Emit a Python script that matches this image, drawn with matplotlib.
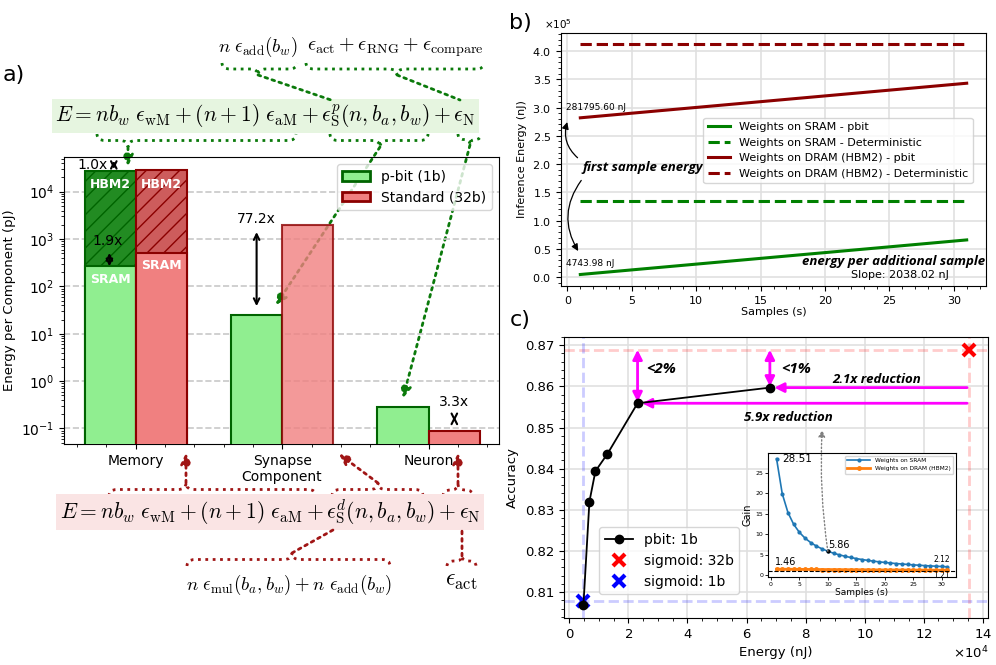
import numpy as np
import matplotlib.pyplot as plt
from matplotlib.path import Path
from matplotlib.patches import PathPatch, Patch
from matplotlib.ticker import AutoMinorLocator, MultipleLocator, ScalarFormatter

# ---- panel a data (pJ per component) ----
components = ['Memory', 'Synapse', 'Neuron']
mem_sram = [265, 510]        # p-bit, standard
mem_hbm2 = [27800, 28300]
synapse = [25.5, 1969]
neuron = [0.29, 0.088]
ratio_labels = ['1.0x', '1.9x', '77.2x', '3.3x']

# ---- panel b data (nJ) ----
samples = [1, 2, 3, 4, 5, 6, 7, 8, 9, 10, 11, 12, 13, 14, 15, 16,
           17, 18, 19, 20, 21, 22, 23, 24, 25, 26, 27, 28, 29, 30, 31]
sram_pbit = [4743.98, 6782.00, 8820.02, 10858.04, 12896.06, 14934.08, 16972.10,
             19010.12, 21048.14, 23086.16, 25124.18, 27162.20, 29200.22, 31238.24,
             33276.26, 35314.28, 37352.30, 39390.32, 41428.34, 43466.36, 45504.38,
             47542.40, 49580.42, 51618.44, 53656.46, 55694.48, 57732.50, 59770.52,
             61808.54, 63846.56, 65884.58]
dram_pbit = [281795.60, 283833.62, 285871.64, 287909.66, 289947.68, 291985.70,
             294023.72, 296061.74, 298099.76, 300137.78, 302175.80, 304213.82,
             306251.84, 308289.86, 310327.88, 312365.90, 314403.92, 316441.94,
             318479.96, 320517.98, 322556.00, 324594.02, 326632.04, 328670.06,
             330708.08, 332746.10, 334784.12, 336822.14, 338860.16, 340898.18,
             342936.20]
sram_det = [135250] * 31
dram_det = [411420] * 31

# ---- panel c data ----
pbit_energy = [4744, 6782, 8820, 12896, 23086, 67900]
pbit_acc = [0.8068, 0.8320, 0.8394, 0.8436, 0.8559, 0.8597]
sig32_energy, sig32_acc = 135250, 0.8689
sig1_energy, sig1_acc = 4700, 0.8079

gain_sram = [28.51, 19.94, 15.33, 12.46, 10.49, 9.06, 7.97, 7.11, 6.43, 5.86, 5.38,
             4.98, 4.63, 4.33, 4.06, 3.83, 3.62, 3.43, 3.26, 3.11, 2.97, 2.84, 2.73,
             2.62, 2.52, 2.43, 2.34, 2.26, 2.19, 2.12, 2.05]
gain_dram = [1.46, 1.45, 1.44, 1.43, 1.42, 1.41, 1.40, 1.39, 1.38, 1.37, 1.36, 1.35,
             1.34, 1.33, 1.33, 1.32, 1.31, 1.30, 1.29, 1.28, 1.28, 1.27, 1.26, 1.25,
             1.24, 1.24, 1.23, 1.22, 1.21, 1.21, 1.20]

W, H = 996, 665
fig = plt.figure(figsize=(9.96, 6.65), dpi=100)


def px_axes(l, t, r, b):
    return fig.add_axes([l / W, 1 - b / H, (r - l) / W, (b - t) / H])


def brace(ax, x0, x1, y0, xt, yt, color):
    ym = (y0 + yt) / 2
    q = min(8, abs(xt - x0) / 2, abs(x1 - xt) / 2)
    verts = [(x0, y0), (x0, ym), (x0 + q, ym), (xt - q, ym), (xt, ym), (xt, yt),
             (xt, ym), (xt + q, ym), (x1 - q, ym), (x1, ym), (x1, y0)]
    codes = [Path.MOVETO, Path.CURVE3, Path.CURVE3, Path.LINETO, Path.CURVE3, Path.CURVE3,
             Path.CURVE3, Path.CURVE3, Path.LINETO, Path.CURVE3, Path.CURVE3]
    ax.add_patch(PathPatch(Path(verts, codes), fc='none', ec=color, lw=2, ls=':'))


def link(ax, p0, p1, color, head=True):
    ax.annotate('', xy=p1, xytext=p0,
                arrowprops=dict(arrowstyle='-|>' if head else '-', color=color, lw=2,
                                ls=':', mutation_scale=16, shrinkA=0, shrinkB=0))


# overlay in pixel coordinates for the equations and their connectors
ov = fig.add_axes([0, 0, 1, 1], zorder=0)
ov.set_xlim(0, W)
ov.set_ylim(H, 0)
ov.axis('off')

g = '#0b7a0b'
r = '#a01515'
ov.text(265.5, 116, r'$E = nb_w\ \epsilon_{\rm wM} + (n+1)\ \epsilon_{\rm aM} + \epsilon^p_{\rm S}(n, b_a, b_w) + \epsilon_{\rm N}$',
        ha='center', va='center', fontsize=15.5, math_fontfamily='cm',
        bbox=dict(boxstyle='square,pad=0.15', fc='#e6f5e0', ec='none'))
ov.text(258, 47, r'$n\ \epsilon_{\rm add}(b_w)$', ha='center', va='center', fontsize=13.5, math_fontfamily='cm')
ov.text(395, 47, r'$\epsilon_{\rm act} + \epsilon_{\rm RNG} + \epsilon_{\rm compare}$', ha='center', va='center',
        fontsize=14.5, math_fontfamily='cm')
brace(ov, 222, 297, 63, 258, 75, g)
brace(ov, 306, 484, 63, 397, 75, g)
link(ov, (258, 75), (331, 100), g, head=False)
link(ov, (397, 75), (460, 100), g, head=False)
brace(ov, 97, 296, 134, 128, 147, g)
brace(ov, 330, 428, 134, 380, 147, g)
brace(ov, 458, 481, 134, 470, 145, g)
link(ov, (128, 147), (128, 166), g)
link(ov, (380, 147), (276, 305), g)
link(ov, (470, 145), (403, 398), g)

ov.text(270, 512, r'$E = nb_w\ \epsilon_{\rm wM} + (n+1)\ \epsilon_{\rm aM} + \epsilon^d_{\rm S}(n, b_a, b_w) + \epsilon_{\rm N}$',
        ha='center', va='center', fontsize=15.5, math_fontfamily='cm',
        bbox=dict(boxstyle='square,pad=0.15', fc='#fae4e4', ec='none'))
ov.text(289, 585, r'$n\ \epsilon_{\rm mul}(b_a, b_w) + n\ \epsilon_{\rm add}(b_w)$', ha='center', va='center',
        fontsize=13.5, math_fontfamily='cm')
ov.text(461, 580, r'$\epsilon_{\rm act}$', ha='center', va='center', fontsize=17, math_fontfamily='cm')
brace(ov, 109, 316, 496, 186, 483, r)
brace(ov, 332, 423, 496, 378, 483, r)
brace(ov, 443, 473, 496, 458, 484, r)
link(ov, (186, 483), (186, 453), r)
link(ov, (378, 483), (339, 454), r)
link(ov, (458, 484), (458, 453), r)
brace(ov, 187, 390, 566, 292, 553, r)
brace(ov, 447, 476, 566, 462, 556, r)
link(ov, (292, 553), (333, 530), r, head=False)
link(ov, (462, 556), (462, 530), r, head=False)

fig.text(14 / W, 1 - 75 / H, 'a)', fontsize=16, ha='center', va='center')
fig.text(520 / W, 1 - 23 / H, 'b)', fontsize=16, ha='center', va='center')
fig.text(520 / W, 1 - 320 / H, 'c)', fontsize=16, ha='center', va='center')

# ---------------- panel a ----------------
ax_a = px_axes(64, 157, 499, 444)
ax_a.set_zorder(1)
ax_a.patch.set_alpha(0)
ax_a.set_yscale('log')
w = 0.35
x = np.arange(len(components))
ax_a.bar(-w / 2, mem_hbm2[0], w, color='forestgreen', edgecolor='darkgreen', hatch='//', lw=1.5, zorder=3)
ax_a.bar(-w / 2, mem_sram[0], w, color='lightgreen', edgecolor='darkgreen', lw=1.5, zorder=3)
ax_a.bar(w / 2, mem_hbm2[1], w, color='indianred', edgecolor='darkred', hatch='//', lw=1.5, zorder=3)
ax_a.bar(w / 2, mem_sram[1], w, color='lightcoral', edgecolor='darkred', lw=1.5, zorder=3)
ax_a.bar(x[1:] - w / 2, [synapse[0], neuron[0]], w, color='lightgreen', edgecolor='darkgreen', lw=1.5, zorder=3)
ax_a.bar(x[1] + w / 2, synapse[1], w, color='lightcoral', edgecolor='darkred', lw=1.5, alpha=0.8, zorder=3)
ax_a.bar(x[2] + w / 2, neuron[1], w, color='lightcoral', edgecolor='darkred', lw=1.5, zorder=3)

for xx, yy, s in [(-w / 2, 14500, 'HBM2'), (w / 2, 14500, 'HBM2'), (-w / 2, 143, 'SRAM'), (w / 2, 275, 'SRAM')]:
    ax_a.text(xx, yy, s, color='white', fontweight='bold', fontsize=9, ha='center', va='center', zorder=4)

arr = dict(arrowstyle='<->', color='black', lw=1.5, shrinkA=0, shrinkB=0)
ax_a.annotate('', xy=(-0.15, 30000), xytext=(-0.15, 45000), arrowprops=arr, zorder=5)
ax_a.text(-0.19, 37000, ratio_labels[0], ha='right', va='center', fontsize=10)
ax_a.annotate('', xy=(-0.18, mem_sram[0]), xytext=(-0.18, mem_sram[1]), arrowprops=arr, zorder=5)
ax_a.text(-0.19, 900, ratio_labels[1], ha='center', va='center', fontsize=10, zorder=5)
ax_a.annotate('', xy=(1 - w / 2, synapse[0]), xytext=(1 - w / 2, synapse[1]),
              arrowprops=dict(arrowstyle='<->', color='black', lw=1.5, shrinkA=5, shrinkB=6), zorder=5)
ax_a.text(1 - w / 2, 2600, ratio_labels[2], ha='center', va='center', fontsize=10)
ax_a.annotate('', xy=(2 + w / 2, neuron[0]), xytext=(2 + w / 2, neuron[1]),
              arrowprops=dict(arrowstyle='<->', color='black', lw=1.5, shrinkA=7, shrinkB=7), zorder=5)
ax_a.text(2 + w / 2, 0.36, ratio_labels[3], ha='center', va='center', fontsize=10)

ax_a.set_xlim(-0.49, 2.48)
ax_a.set_ylim(0.047, 5.4e4)
ax_a.set_xticks(x)
ax_a.set_xticklabels(components, fontsize=10)
ax_a.xaxis.set_minor_locator(AutoMinorLocator(5))
ax_a.tick_params(labelsize=10)
ax_a.set_xlabel('Component', fontsize=10, labelpad=2)
ax_a.set_ylabel('Energy per Component (pJ)', fontsize=9.5)
ax_a.yaxis.grid(True, which='major', ls='--', color='#c8c8c8', lw=1.2, zorder=0)
ax_a.legend(handles=[Patch(fc='lightgreen', ec='darkgreen', lw=2), Patch(fc='lightcoral', ec='darkred', lw=2)],
            labels=['p-bit (1b)', 'Standard (32b)'], loc='upper right', fontsize=10)

# ---------------- panel b ----------------
ax_b = px_axes(561, 33, 986, 286)
ax_b.plot(samples, sram_pbit, color='green', lw=2.2, label='Weights on SRAM - pbit')
ax_b.plot(samples, sram_det, color='green', lw=2.2, ls='--', label='Weights on SRAM - Deterministic')
ax_b.plot(samples, dram_pbit, color='darkred', lw=2.2, label='Weights on DRAM (HBM2) - pbit')
ax_b.plot(samples, dram_det, color='darkred', lw=2.2, ls='--', label='Weights on DRAM (HBM2) - Deterministic')
ax_b.grid(True, color='0.88', lw=1.2)
ax_b.xaxis.set_major_locator(MultipleLocator(5))
ax_b.xaxis.set_minor_locator(AutoMinorLocator(5))
ax_b.yaxis.set_major_locator(MultipleLocator(50000))
ax_b.yaxis.set_minor_locator(AutoMinorLocator(5))
fmt = ScalarFormatter(useMathText=True)
fmt.set_powerlimits((0, 0))
ax_b.yaxis.set_major_formatter(fmt)
ax_b.yaxis.get_offset_text().set_fontsize(7.5)
ax_b.yaxis.get_offset_text().set_x(-0.04)
ax_b.tick_params(labelsize=8)
ax_b.set_xlabel('Samples (s)', fontsize=8, labelpad=1)
ax_b.set_ylabel('Inference Energy (nJ)', fontsize=8)
ax_b.legend(loc='upper left', bbox_to_anchor=(0.335, 0.665), borderaxespad=0, fontsize=8)
ax_b.text(-0.1, 300000, '%.2f nJ' % dram_pbit[0], fontsize=6.5, va='center')
ax_b.text(-0.1, 24000, '%.2f nJ' % sram_pbit[0], fontsize=6.5, va='center')
note = dict(fontsize=9.5, style='italic', fontweight='bold', family=['Open Sans', 'DejaVu Sans'])
ax_b.text(1.2, 194000, 'first sample energy', va='center', **note)
ax_b.annotate('', xy=(0.05, 279000), xytext=(0.95, 208000),
              arrowprops=dict(arrowstyle='-|>', color='black', lw=0.9, connectionstyle='arc3,rad=-0.35'))
ax_b.annotate('', xy=(0.95, 42000), xytext=(1.2, 175000),
              arrowprops=dict(arrowstyle='-|>', color='black', lw=0.9, connectionstyle='arc3,rad=0.35'))
ax_b.text(32.4, 27000, 'energy per additional sample', ha='right', va='center', **note)
ax_b.text(25.8, 4000, 'Slope: %.2f nJ' % (sram_pbit[1] - sram_pbit[0]), ha='center', va='center', fontsize=8)

# ---------------- panel c ----------------
ax_c = px_axes(564, 337, 988, 618)
ax_c.axhline(sig32_acc, color='red', ls='--', lw=2, alpha=0.2)
ax_c.axvline(sig32_energy, color='red', ls='--', lw=2, alpha=0.2)
ax_c.axhline(sig1_acc, color='blue', ls='--', lw=2, alpha=0.2)
ax_c.axvline(sig1_energy, color='blue', ls='--', lw=2, alpha=0.2)
ax_c.plot(pbit_energy, pbit_acc, 'o-', color='black', ms=6, lw=1.3, label='pbit: 1b', zorder=4)
ax_c.plot(sig32_energy, sig32_acc, 'x', color='red', ms=8, mew=3, ls='none', label='sigmoid: 32b')
ax_c.plot(sig1_energy, sig1_acc, 'x', color='blue', ms=8, mew=3, ls='none', label='sigmoid: 1b')
ax_c.grid(True, color='0.88', lw=1.2)
ax_c.xaxis.set_major_locator(MultipleLocator(20000))
ax_c.xaxis.set_minor_locator(AutoMinorLocator(4))
ax_c.yaxis.set_minor_locator(AutoMinorLocator(5))
ax_c.ticklabel_format(axis='x', style='sci', scilimits=(4, 4), useMathText=True)
ax_c.xaxis.get_offset_text().set_fontsize(9.5)
ax_c.tick_params(labelsize=9.5)
ax_c.set_xlabel('Energy (nJ)', fontsize=9.5)
ax_c.set_ylabel('Accuracy', fontsize=9.5)
ax_c.legend(loc='lower left', bbox_to_anchor=(0.083, 0.085), borderaxespad=0, fontsize=10)

mag = dict(color='magenta', lw=2, mutation_scale=14, shrinkA=0, shrinkB=0)
ax_c.annotate('', xy=(pbit_energy[4], pbit_acc[4] + 0.0003), xytext=(pbit_energy[4], sig32_acc),
              arrowprops=dict(arrowstyle='<|-|>', **mag))
ax_c.annotate('', xy=(pbit_energy[5], pbit_acc[5] + 0.0003), xytext=(pbit_energy[5], sig32_acc),
              arrowprops=dict(arrowstyle='<|-|>', **mag))
ax_c.annotate('', xy=(pbit_energy[5] + 1500, pbit_acc[5]), xytext=(134700, pbit_acc[5]),
              arrowprops=dict(arrowstyle='-|>', **mag))
ax_c.annotate('', xy=(pbit_energy[4] + 1500, pbit_acc[4]), xytext=(134700, pbit_acc[4]),
              arrowprops=dict(arrowstyle='-|>', **mag))
big_note = dict(note, fontsize=11)
ax_c.text(25900, 0.8643, '<2%', va='center', **big_note)
ax_c.text(71800, 0.8643, '<1%', va='center', **big_note)
ax_c.text(89000, 0.8616, '2.1x reduction', va='center', **note)
ax_c.text(59200, 0.8524, '5.9x reduction', va='center', **note)

# ---------------- inset ----------------
ax_in = px_axes(768, 453, 956, 577)
ax_in.plot(samples, gain_sram, 'o-', color='#1f77b4', ms=2, lw=1.2, label='Weights on SRAM')
ax_in.plot(samples, gain_dram, 'o-', color='#ff7f0e', ms=2.5, lw=2, label='Weights on DRAM (HBM2)')
ax_in.axhline(1, color='black', ls='--', lw=0.8)
ax_in.plot(samples[9], gain_sram[9], 'o', color='black', ms=2)
ax_in.set_xticks([0, 5, 10, 15, 20, 25, 30])
ax_in.set_yticks([0, 5, 10, 15, 20, 25])
ax_in.tick_params(labelsize=4.5, length=2, width=0.6, pad=1.5)
ax_in.set_xlabel('Samples (s)', fontsize=6.5, labelpad=1)
ax_in.set_ylabel('Gain', fontsize=7, labelpad=2)
ax_in.set_ylim(-0.45, 29.9)
ax_in.legend(loc='upper right', fontsize=4.2, handlelength=4)
ax_in.text(2, gain_sram[0], '%.2f' % gain_sram[0], fontsize=7.5, va='center')
ax_in.text(10, gain_sram[9] + 0.4, '%.2f' % gain_sram[9], fontsize=7, va='bottom')
ax_in.text(0.8, gain_dram[0] + 0.5, '%.2f' % gain_dram[0], fontsize=7, va='bottom')
ax_in.text(30, gain_sram[29] + 0.5, '%.2f' % gain_sram[29], fontsize=5.5, ha='center', va='bottom')
ax_in.text(30, gain_dram[29] - 0.1, '%.2f' % gain_dram[29], fontsize=5.5, ha='center', va='top')
ax_in.annotate('', xy=(85600, 0.8494), xycoords=ax_c.transData, xytext=(10, gain_sram[9]), textcoords='data',
               arrowprops=dict(arrowstyle='-|>', color='gray', lw=1, ls=':', shrinkA=0, shrinkB=0,
                               connectionstyle='arc3,rad=-0.05'), annotation_clip=False)

fig.savefig('out.png', dpi=100)
